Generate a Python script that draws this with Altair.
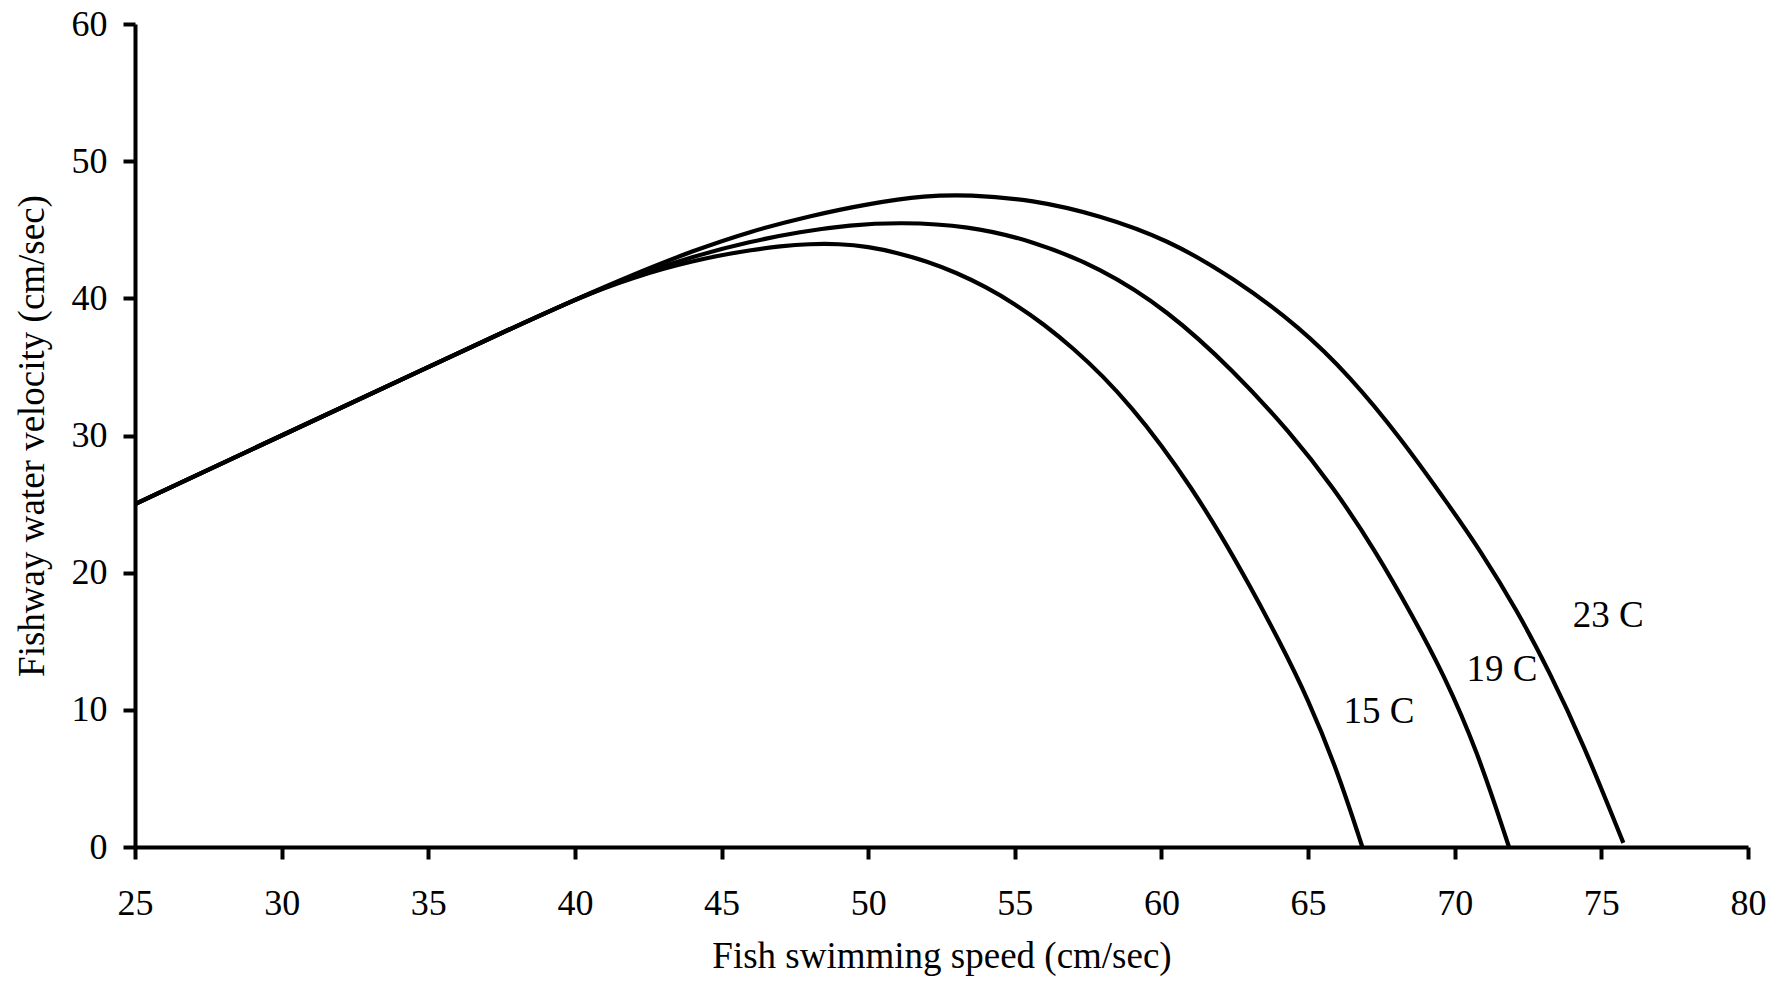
import altair as alt
import pandas as pd

# Shared rising segment (all three temperatures coincide here)
shared_speed = [25, 30, 35, 38, 40]
shared_velocity = [25.0, 30.0, 35.0, 37.97, 39.9]

# 15 C curve (after the shared segment)
speed_15 = [41, 42, 43, 44, 45, 46, 47, 48, 49, 50, 51, 52, 53, 54, 55, 56, 57, 58, 59, 60,
            61, 62, 63, 64, 65, 66, 66.85]
velocity_15 = [40.75, 41.5, 42.15, 42.7, 43.15, 43.52, 43.8, 43.97, 43.98, 43.77, 43.32,
               42.7, 41.88, 40.85, 39.6, 38.1, 36.35, 34.35, 32.0, 29.3, 26.25, 22.85,
               19.1, 15.1, 10.8, 5.55, 0.0]

# 19 C curve
speed_19 = [42, 44, 46, 47.67, 49.38, 51.08, 53.4, 55.6, 57.9, 60.2, 62.45, 64.4, 65.85,
            67.3, 68.6, 69.6, 70.76, 71.85]
velocity_19 = [41.65, 43.05, 44.15, 44.85, 45.35, 45.55, 45.3, 44.2, 42.25, 39.15, 34.75,
               30.2, 26.25, 21.6, 16.7, 12.69, 7.07, 0.0]

# 23 C curve
speed_23 = [42, 44, 46, 48, 50, 52, 53.4, 55.6, 57.9, 60.2, 62.45, 64.72, 66.43,
            68.13, 69.84, 70.86, 72.12, 73.25, 74.37, 75.75]
velocity_23 = [41.75, 43.45, 44.9, 46.0, 46.9, 47.5, 47.56, 47.2, 46.05, 44.3, 41.5, 37.9,
               34.3, 29.9, 24.8, 21.65, 17.28, 12.69, 7.6, 0.3]

# Curve labels
label_text = ["15 C", "19 C", "23 C"]
label_speed = [67.42, 71.61, 75.23]
label_velocity = [9.04, 12.1, 16.04]

x_ticks = [25, 30, 35, 40, 45, 50, 55, 60, 65, 70, 75, 80]
y_ticks = [0, 10, 20, 30, 40, 50, 60]

rows = []
for name, xs, ys in [("15 C", speed_15, velocity_15),
                     ("19 C", speed_19, velocity_19),
                     ("23 C", speed_23, velocity_23)]:
    allx = shared_speed + xs
    ally = shared_velocity + ys
    for i, (a, b) in enumerate(zip(allx, ally)):
        rows.append({"series": name, "speed": a, "velocity": b, "order": i})
df = pd.DataFrame(rows)
labels = pd.DataFrame({"text": label_text, "speed": label_speed, "velocity": label_velocity})

FONT = "Liberation Serif"

x_enc = alt.X("speed:Q",
              scale=alt.Scale(domain=[25, 80], nice=False, zero=False),
              axis=alt.Axis(values=x_ticks, title="Fish swimming speed (cm/sec)",
                            grid=False, domainColor="black", domainWidth=4,
                            tickColor="black", tickWidth=4, tickSize=12,
                            labelFont=FONT, labelFontSize=36, labelColor="black",
                            labelPadding=27, labelFlush=False, labelOverlap=False,
                            titleFont=FONT, titleFontSize=37, titleFontWeight="normal",
                            titleColor="black", titleBaseline="alphabetic", titleY=120))
y_enc = alt.Y("velocity:Q",
              scale=alt.Scale(domain=[0, 60], nice=False, zero=True),
              axis=alt.Axis(values=y_ticks, title="Fishway water velocity (cm/sec)",
                            grid=False, domainColor="black", domainWidth=4,
                            tickColor="black", tickWidth=4, tickSize=12,
                            labelFont=FONT, labelFontSize=36, labelColor="black",
                            labelPadding=16, labelFlush=False, labelOverlap=False,
                            titleFont=FONT, titleFontSize=37, titleFontWeight="normal",
                            titleColor="black", titleBaseline="alphabetic",
                            titleAngle=270, titleAlign="center", titleX=-92))

lines = alt.Chart(df).mark_line(color="black", strokeWidth=4.2, interpolate="basis").encode(
    x=x_enc, y=y_enc, detail="series:N", order="order:Q")

text = alt.Chart(labels).mark_text(font=FONT, fontSize=37, color="black",
                                   align="center", baseline="alphabetic").encode(
    x="speed:Q", y="velocity:Q", text="text:N")

chart = alt.layer(lines, text).properties(
    width=1613, height=823,
    autosize=alt.AutoSizeParams(type="none"),
    padding={"left": 127, "top": 16, "right": 25, "bottom": 130},
    background="white",
).configure_view(stroke=None)

chart.save("out.html", embed_options={"renderer": "svg", "actions": False})
